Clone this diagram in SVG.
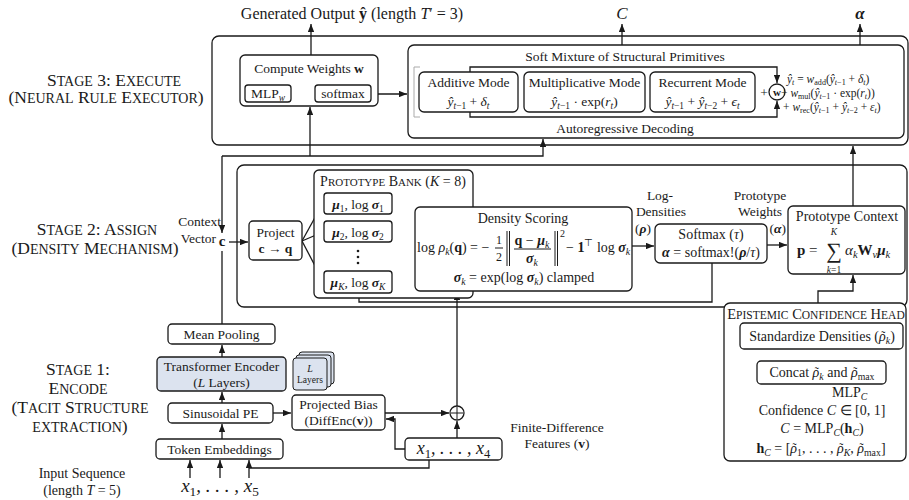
<svg xmlns="http://www.w3.org/2000/svg" width="909" height="500" viewBox="0 0 909 500">
<defs>
<marker id="ah" viewBox="0 0 10 8" refX="10" refY="4" markerWidth="8" markerHeight="6.5" markerUnits="userSpaceOnUse" orient="auto"><path d="M0,0 L10,4 L0,8 z" fill="#1a1a1a"/></marker>
<style>
text{font-family:"Liberation Serif","Times New Roman",serif;fill:#1a1a1a;font-size:13.5px}
.box{fill:#fff;stroke:#1a1a1a;stroke-width:1.3}
.frame{fill:none;stroke:#1a1a1a;stroke-width:1.3}
.ln{fill:none;stroke:#1a1a1a;stroke-width:1.3}
.thin{fill:none;stroke:#1a1a1a;stroke-width:1}
.arr{fill:none;stroke:#1a1a1a;stroke-width:1.3;marker-end:url(#ah)}
.i{font-style:italic}
.b{font-weight:bold}
.bi{font-weight:bold;font-style:italic}
.sb{baseline-shift:-0.3em;font-size:70%}
.sp{baseline-shift:0.6em;font-size:70%}
.m{text-anchor:middle}
.stage{font-size:17.5px;text-anchor:middle}
.s1{font-size:14px}
.tl{font-size:12px}
</style>
</defs>
<rect width="909" height="500" fill="#fff"/>

<!-- stage labels -->
<g id="stage-labels">
<text class="stage" x="114" y="86">S<tspan class="s1">TAGE</tspan> 3: E<tspan class="s1">XECUTE</tspan></text>
<text class="stage" x="106" y="103">(N<tspan class="s1">EURAL</tspan> R<tspan class="s1">ULE</tspan> E<tspan class="s1">XECUTOR</tspan>)</text>
<text class="stage" x="97" y="235">S<tspan class="s1">TAGE</tspan> 2: A<tspan class="s1">SSIGN</tspan></text>
<text class="stage" x="95" y="254">(D<tspan class="s1">ENSITY</tspan> M<tspan class="s1">ECHANISM</tspan>)</text>
<text class="stage" x="78" y="375">S<tspan class="s1">TAGE</tspan> 1:</text>
<text class="stage" x="78" y="394">E<tspan class="s1">NCODE</tspan></text>
<text class="stage" x="80" y="413">(T<tspan class="s1">ACIT</tspan> S<tspan class="s1">TRUCTURE</tspan></text>
<text class="stage" x="80" y="432"><tspan class="s1">EXTRACTION</tspan>)</text>
</g>

<!-- frames -->
<g id="stage3-frame"><rect class="frame" x="212" y="36" width="696" height="109" rx="7"/></g>
<g id="stage2-frame"><rect class="frame" x="237" y="165" width="670" height="142" rx="7"/></g>

<!-- top outputs -->
<g id="outputs">
<text x="352" y="19" class="m" style="font-size:16px">Generated Output <tspan class="b">ŷ</tspan> (length <tspan class="i">T</tspan>′ = 3)</text>
<text x="622" y="19" class="m i" style="font-size:17px">C</text>
<text x="860" y="19" class="m bi" style="font-size:17px">α</text>
</g>

<!-- connectors -->
<g id="connectors">
<path class="arr" d="M311,55 V24"/>
<path class="arr" d="M622,45 V24"/>
<path class="arr" d="M860,45 V24"/>
<path class="arr" d="M291,93 H314"/>
<path class="arr" d="M371,94 H407"/>
<path class="arr" d="M222,156 V233"/>
<path class="arr" d="M222,156 H543 V139"/>
<path class="arr" d="M310,156 V107"/>
<path class="ln" d="M222,251 V324"/>
<path class="arr" d="M229,242 H248"/>
<path class="arr" d="M302,241 L323,203"/>
<path class="arr" d="M302,241 L323,232"/>
<path class="arr" d="M302,241 L323,281"/>
<path class="arr" d="M392,203 L414,246"/>
<path class="arr" d="M392,232 L414,246"/>
<path class="arr" d="M392,281 L414,246"/>
<path class="arr" d="M632,246 H654"/>
<path class="arr" d="M767,245 H787"/>
<path class="ln" d="M712,263 V302 H359 V293"/>
<path class="arr" d="M853,206 V146"/>
<path class="arr" d="M818,303 V291 H853 V275"/>
<path class="arr" d="M822,349 V360"/>
<path class="arr" d="M822,384 V395"/>
<path class="arr" d="M457,406 V292"/>
<path class="arr" d="M385,413 H449"/>
<path class="arr" d="M457,438 V421"/>
<path class="arr" d="M405,449 H395 V419 H386"/>
<path class="ln" d="M429,460 V468 H249"/>
<path class="arr" d="M190,478 V460"/>
<path class="arr" d="M220,478 V460"/>
<path class="arr" d="M249,478 V460"/>
<path class="arr" d="M222,439 V424"/>
<path class="arr" d="M222,403 V392"/>
<path class="arr" d="M222,357 V345"/>
<path class="arr" d="M273,413 H291"/>
<path class="arr" d="M470,72 V67 H777 V83"/>
<path class="arr" d="M470,112 V117 H777 V101"/>
<path d="M420,67 H414 V117 H420" fill="none" stroke="#aaa" stroke-width="1"/>
</g>

<!-- Stage 3 nodes -->
<g id="compute-weights">
<rect class="box" x="240" y="55" width="138" height="51" rx="5"/>
<text x="309" y="73" class="m">Compute Weights <tspan class="b">w</tspan></text>
<rect class="box" x="245" y="85" width="46" height="17" rx="3"/>
<text x="268" y="98" class="m">MLP<tspan class="sb i">w</tspan></text>
<rect class="box" x="315" y="85" width="56" height="17" rx="3"/>
<text x="343" y="98" class="m">softmax</text>
</g>

<g id="soft-mixture">
<rect class="frame" x="408" y="45" width="496" height="93" rx="6"/>
<text x="625" y="61" class="m">Soft Mixture of Structural Primitives</text>
<text x="625" y="133" class="m">Autoregressive Decoding</text>
</g>
<g id="additive-mode">
<rect class="box" x="419" y="72" width="99" height="40" rx="5"/>
<text x="468.5" y="87" class="m">Additive Mode</text>
<text x="468.5" y="106" class="m"><tspan class="i">ŷ</tspan><tspan class="sb"><tspan class="i">t</tspan>−1</tspan> + <tspan class="i">δ</tspan><tspan class="sb i">t</tspan></text>
</g>
<g id="multiplicative-mode">
<rect class="box" x="524" y="72" width="121" height="40" rx="5"/>
<text x="584.5" y="87" class="m">Multiplicative Mode</text>
<text x="584.5" y="106" class="m"><tspan class="i">ŷ</tspan><tspan class="sb"><tspan class="i">t</tspan>−1</tspan> · exp(<tspan class="i">r</tspan><tspan class="sb i">t</tspan>)</text>
</g>
<g id="recurrent-mode">
<rect class="box" x="650" y="72" width="105" height="40" rx="5"/>
<text x="702.5" y="87" class="m">Recurrent Mode</text>
<text x="702.5" y="106" class="m"><tspan class="i">ŷ</tspan><tspan class="sb"><tspan class="i">t</tspan>−1</tspan> + <tspan class="i">ŷ</tspan><tspan class="sb"><tspan class="i">t</tspan>−2</tspan> + <tspan class="i">ϵ</tspan><tspan class="sb i">t</tspan></text>
</g>
<g id="weight-node">
<text x="764" y="97" class="m">+</text>
<circle cx="777" cy="92" r="8" class="box"/>
<text x="777" y="96" class="m b" style="font-size:11px">w</text>
<text x="787" y="83" style="font-size:11.5px"><tspan class="i">ŷ</tspan><tspan class="sb i">t</tspan> = <tspan class="i">w</tspan><tspan class="sb">add</tspan>(<tspan class="i">ŷ</tspan><tspan class="sb"><tspan class="i">t</tspan>−1</tspan> + <tspan class="i">δ</tspan><tspan class="sb i">t</tspan>)</text>
<text x="781" y="97" style="font-size:11.5px">+ <tspan class="i">w</tspan><tspan class="sb">mul</tspan>(<tspan class="i">ŷ</tspan><tspan class="sb"><tspan class="i">t</tspan>−1</tspan> · exp(<tspan class="i">r</tspan><tspan class="sb i">t</tspan>))</text>
<text x="783" y="111" style="font-size:11.5px">+ <tspan class="i">w</tspan><tspan class="sb">rec</tspan>(<tspan class="i">ŷ</tspan><tspan class="sb"><tspan class="i">t</tspan>−1</tspan> + <tspan class="i">ŷ</tspan><tspan class="sb"><tspan class="i">t</tspan>−2</tspan> + <tspan class="i">ε</tspan><tspan class="sb i">t</tspan>)</text>
</g>

<!-- Stage 2 nodes -->
<g id="context-vector">
<text x="221" y="226" text-anchor="end">Context</text>
<text x="216" y="243" text-anchor="end">Vector</text>
<text x="222" y="246" class="m b" style="font-size:15px">c</text>
</g>
<g id="project">
<rect class="box" x="249" y="221" width="53" height="39" rx="4"/>
<text x="275.5" y="237" class="m">Project</text>
<text x="275.5" y="253" class="m"><tspan class="b">c</tspan> → <tspan class="b">q</tspan></text>
</g>
<g id="prototype-bank">
<rect class="box" x="314" y="170" width="159" height="128" rx="5"/>
<text x="393" y="186" class="m" style="font-size:14px">P<tspan style="font-size:11px">ROTOTYPE</tspan> B<tspan style="font-size:11px">ANK</tspan> (<tspan class="i">K</tspan> = 8)</text>
<rect class="box" x="324" y="193" width="68" height="21" rx="3"/>
<text x="358" y="209" class="m"><tspan class="bi">μ</tspan><tspan class="sb">1</tspan>, log <tspan class="bi">σ</tspan><tspan class="sb">1</tspan></text>
<rect class="box" x="324" y="221" width="68" height="21" rx="3"/>
<text x="358" y="237" class="m"><tspan class="bi">μ</tspan><tspan class="sb">2</tspan>, log <tspan class="bi">σ</tspan><tspan class="sb">2</tspan></text>
<circle cx="358" cy="251" r="1.3" fill="#1a1a1a"/>
<circle cx="358" cy="257" r="1.3" fill="#1a1a1a"/>
<circle cx="358" cy="263" r="1.3" fill="#1a1a1a"/>
<rect class="box" x="324" y="271" width="68" height="22" rx="3"/>
<text x="358" y="287" class="m"><tspan class="bi">μ</tspan><tspan class="sb i">K</tspan>, log <tspan class="bi">σ</tspan><tspan class="sb i">K</tspan></text>
</g>
<g id="density-scoring">
<rect class="box" x="415" y="207" width="217" height="84" rx="5"/>
<text x="523" y="223" class="m" style="font-size:14px">Density Scoring</text>
<text x="417" y="252" style="font-size:14px">log <tspan class="i">ρ</tspan><tspan class="sb i">k</tspan>(<tspan class="b">q</tspan>) = −</text>
<text x="499" y="244" class="m" style="font-size:12px">1</text>
<line class="thin" x1="495" y1="248" x2="503" y2="248"/>
<text x="499" y="261" class="m" style="font-size:12px">2</text>
<path class="thin" d="M507,231 V266 M509.5,231 V266 M555,231 V266 M557.5,231 V266"/>
<text x="532" y="245" class="m" style="font-size:14px"><tspan class="b">q</tspan> − <tspan class="bi">μ</tspan><tspan class="sb i">k</tspan></text>
<line class="thin" x1="514" y1="249" x2="551" y2="249"/>
<text x="532" y="263" class="m" style="font-size:14px"><tspan class="bi">σ</tspan><tspan class="sb i">k</tspan></text>
<text x="560" y="237" style="font-size:10px">2</text>
<text x="566" y="252" style="font-size:14px">− <tspan class="b">1</tspan><tspan class="sp">⊤</tspan> log <tspan class="bi">σ</tspan><tspan class="sb i">k</tspan></text>
<text x="524" y="282" class="m" style="font-size:14px"><tspan class="bi">σ</tspan><tspan class="sb i">k</tspan> = exp(log <tspan class="bi">σ</tspan><tspan class="sb i">k</tspan>) clamped</text>
</g>
<g id="log-densities-label">
<text x="660" y="200" class="m">Log-</text>
<text x="661" y="216" class="m">Densities</text>
<text x="635" y="233">(<tspan class="bi">ρ</tspan>)</text>
</g>
<g id="softmax-tau">
<rect class="box" x="655" y="224" width="112" height="39" rx="5"/>
<text x="711" y="239" class="m" style="font-size:14px">Softmax (<tspan class="i">τ</tspan>)</text>
<text x="711" y="257" class="m" style="font-size:14px"><tspan class="bi">α</tspan> = softmax!(<tspan class="bi">ρ</tspan>/<tspan class="i">τ</tspan>)</text>
</g>
<g id="prototype-weights-label">
<text x="760" y="200" class="m">Prototype</text>
<text x="760" y="216" class="m">Weights</text>
<text x="786" y="233" text-anchor="end">(<tspan class="bi">α</tspan>)</text>
</g>
<g id="prototype-context">
<rect class="box" x="788" y="206" width="117" height="68" rx="5"/>
<text x="847" y="221" class="m" style="font-size:14px">Prototype Context</text>
<text x="797" y="255" style="font-size:15px"><tspan class="b">p</tspan> =</text>
<text x="834" y="258" class="m" style="font-size:22px">∑</text>
<text x="834" y="235" class="m i" style="font-size:9.5px">K</text>
<text x="834" y="273" class="m" style="font-size:9.5px"><tspan class="i">k</tspan>=1</text>
<text x="845" y="255" style="font-size:15px"><tspan class="i">α</tspan><tspan class="sb i">k</tspan><tspan class="b">W</tspan><tspan class="sb i">v</tspan><tspan class="bi">μ</tspan><tspan class="sb i">k</tspan></text>
</g>
<g id="confidence-head">
<rect class="box" x="724" y="303" width="182" height="158" rx="6"/>
<text x="816" y="319" class="m" style="font-size:14.5px">E<tspan style="font-size:11.5px">PISTEMIC</tspan> C<tspan style="font-size:11.5px">ONFIDENCE</tspan> H<tspan style="font-size:11.5px">EAD</tspan></text>
<rect class="box" x="740" y="323" width="163" height="26" rx="4"/>
<text x="822" y="341" class="m" style="font-size:14px">Standardize Densities (<tspan class="i">ρ</tspan><tspan class="tl" dx="-4.5" dy="-1">˜</tspan><tspan class="sb i" dx="0.5" dy="1">k</tspan>)</text>
<rect class="box" x="757" y="361" width="129" height="23" rx="4"/>
<text x="822" y="377" class="m" style="font-size:14px">Concat <tspan class="i">ρ</tspan><tspan class="tl" dx="-4.5" dy="-1">˜</tspan><tspan class="sb i" dx="0.5" dy="1">k</tspan> and <tspan class="i">ρ</tspan><tspan class="tl" dx="-4.5" dy="-1">˜</tspan><tspan class="sb" dx="0.5" dy="1">max</tspan></text>
<text x="832" y="397" style="font-size:14px">MLP<tspan class="sb i">C</tspan></text>
<text x="822" y="415" class="m" style="font-size:14px">Confidence <tspan class="i">C</tspan> ∈ [0, 1]</text>
<text x="822" y="433" class="m" style="font-size:14px"><tspan class="i">C</tspan> = MLP<tspan class="sb i">C</tspan>(<tspan class="b">h</tspan><tspan class="sb i">C</tspan>)</text>
<text x="821" y="453" class="m" style="font-size:14px"><tspan class="b">h</tspan><tspan class="sb i">C</tspan> = [<tspan class="i">ρ</tspan><tspan class="tl" dx="-4.5" dy="-1">˜</tspan><tspan class="sb" dx="0.5" dy="1">1</tspan>, . . . , <tspan class="i">ρ</tspan><tspan class="tl" dx="-4.5" dy="-1">˜</tspan><tspan class="sb i" dx="0.5" dy="1">K</tspan>, <tspan class="i">ρ</tspan><tspan class="tl" dx="-4.5" dy="-1">˜</tspan><tspan class="sb" dx="0.5" dy="1">max</tspan>]</text>
</g>

<!-- Stage 1 nodes -->
<g id="mean-pooling">
<rect class="box" x="168" y="324" width="107" height="20" rx="4"/>
<text x="221.5" y="339" class="m">Mean Pooling</text>
</g>
<g id="transformer-encoder">
<rect x="157" y="357" width="129" height="34" rx="4" fill="#dce3ef" stroke="#1a1a1a" stroke-width="1.3"/>
<text x="221.5" y="371" class="m">Transformer Encoder</text>
<text x="221.5" y="387" class="m">(<tspan class="i">L</tspan> Layers)</text>
</g>
<g id="layers-stack">
<rect x="299" y="352" width="35" height="32" rx="3" fill="#dce3ef" stroke="#1a1a1a" stroke-width="1"/>
<rect x="296" y="355" width="35" height="32" rx="3" fill="#dce3ef" stroke="#1a1a1a" stroke-width="1"/>
<rect x="293" y="358" width="34" height="32" rx="3" fill="#dce3ef" stroke="#1a1a1a" stroke-width="1"/>
<text x="310" y="372" class="m i" style="font-size:10px">L</text>
<text x="310" y="383" class="m" style="font-size:9.5px">Layers</text>
</g>
<g id="sinusoidal-pe">
<rect class="box" x="168" y="403" width="105" height="20" rx="4"/>
<text x="220.5" y="418" class="m">Sinusoidal PE</text>
</g>
<g id="projected-bias">
<rect class="box" x="292" y="395" width="93" height="35" rx="4"/>
<text x="338.5" y="409" class="m">Projected Bias</text>
<text x="338.5" y="425" class="m">(DiffEnc(<tspan class="b">v</tspan>))</text>
</g>
<g id="sum-node">
<circle cx="457" cy="413" r="7" class="box"/>
<path class="thin" d="M451,413 H463 M457,407 V419"/>
</g>
<g id="diff-features">
<rect class="box" x="405" y="438" width="97" height="22" rx="4"/>
<text x="453.5" y="454" class="m i" style="font-size:18px">x<tspan class="sb" style="font-style:normal">1</tspan>, . . . , x<tspan class="sb" style="font-style:normal">4</tspan></text>
<text x="557" y="432" class="m">Finite-Difference</text>
<text x="557" y="448" class="m">Features (<tspan class="b">v</tspan>)</text>
</g>
<g id="token-embeddings">
<rect class="box" x="156" y="439" width="127" height="20" rx="4"/>
<text x="219.5" y="454" class="m">Token Embeddings</text>
</g>
<g id="input-sequence">
<text x="220" y="492" class="m i" style="font-size:19px">x<tspan class="sb" style="font-style:normal">1</tspan>, . . . , x<tspan class="sb" style="font-style:normal">5</tspan></text>
<text x="82" y="478" class="m" style="font-size:14px">Input Sequence</text>
<text x="82" y="495" class="m" style="font-size:14px">(length <tspan class="i">T</tspan> = 5)</text>
</g>
</svg>
